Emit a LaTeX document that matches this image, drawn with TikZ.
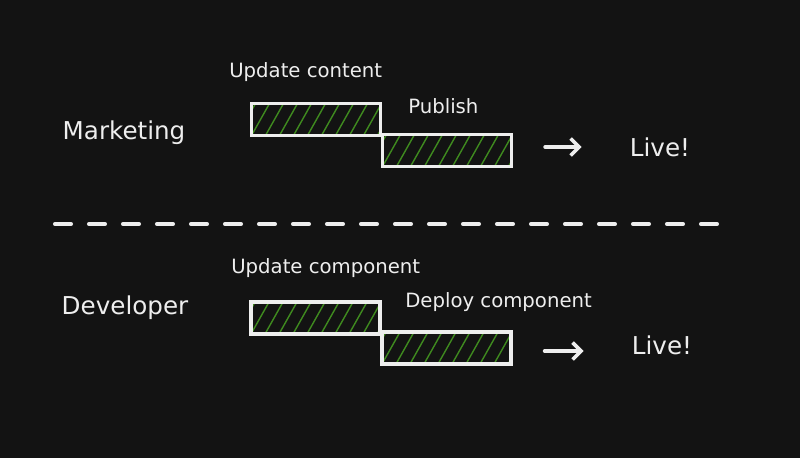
\documentclass[tikz,border=0pt]{standalone}
\usepackage{fontspec}
\setmainfont{DejaVu Sans}
\usetikzlibrary{arrows.meta}

\definecolor{board}{HTML}{131313}
\definecolor{chalk}{HTML}{EEEEEE}
\definecolor{hatchgreen}{HTML}{3F8A1F}

\tikzset{
  team/.style={text=chalk, font=\fontsize{17.5}{20}\selectfont, inner sep=0pt},
  task/.style={text=chalk, font=\fontsize{14}{16}\selectfont, inner sep=0pt, anchor=west},
  bar/.style={
    draw=chalk,
    line width=2.2pt,
    minimum width=3.225cm,
    minimum height=0.8cm,
    inner sep=0pt,
    outer sep=0pt,
    path picture={
      \foreach \k in {-2,...,10}
        \draw[hatchgreen, line width=1pt]
          ([xshift=\k*0.35cm]path picture bounding box.south west) -- ++(0.45cm,0.8cm);
    }
  },
  golive/.style={draw=chalk, line width=2.6pt, line cap=round, -{Straight Barb[length=6pt,width=12pt]}}
}

\begin{document}
\begin{tikzpicture}
  \fill[board] (0,0) rectangle (20,-11.45);
  \useasboundingbox (0,0) rectangle (20,-11.45);

  \node[team] (marketing) at (3.1,-3.325) {Marketing};
  \node[bar] (update) at (7.9,-2.9875) {};
  \node[bar, anchor=north west] (publish)
    at ([xshift=0.05cm, yshift=0.025cm]update.south east) {};
  \node[task] (updatetxt) at (5.725,-1.8) {Update content};
  \node[task] (publishtxt) at (10.2,-2.65) {Publish};
  \node[team] (live1) at (16.5,-3.675) {Live!};
  \draw[golive] ([xshift=0.84cm]publish.east |- live1) -- ([xshift=-1.2cm]live1.west);

  \draw[chalk, line width=2.9pt, line cap=round, dash pattern=on 0.4cm off 0.45cm]
    (1.375,-5.6) -- (17.925,-5.6);

  \node[team] (developer) at (3.125,-7.7) {Developer};
  \node[bar] (component) at (7.8875,-7.95) {};
  \node[bar, anchor=north west] (deploy)
    at ([xshift=0.05cm, yshift=0.05cm]component.south east) {};
  \node[task] (componenttxt) at (5.775,-6.7) {Update component};
  \node[task] (deploytxt) at (10.125,-7.55) {Deploy component};
  \node[team] (live2) at (16.55,-8.625) {Live!};
  \draw[golive] ([xshift=0.84cm, yshift=-0.15cm]deploy.east |- live2) -- ([xshift=-1.2cm, yshift=-0.15cm]live2.west);
\end{tikzpicture}
\end{document}
